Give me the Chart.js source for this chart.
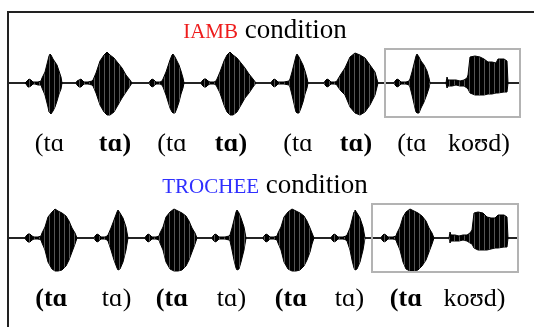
<!DOCTYPE html>
<html><head><meta charset="utf-8">
<script src="https://cdn.jsdelivr.net/npm/chart.js@4.4.1/dist/chart.umd.min.js"></script>
<style>
html,body{margin:0;padding:0;background:#fff;}
body{width:534px;height:327px;position:relative;overflow:hidden;}
#frame{position:absolute;left:7px;top:11px;right:0;bottom:0;border-left:2px solid #222;border-top:2px solid #222;pointer-events:none;}
.wrap{position:absolute;left:0;width:534px;height:163px;}
</style></head><body>
<div class="wrap" style="top:0"><canvas id="c1" width="534" height="163"></canvas></div>
<div class="wrap" style="top:155px"><canvas id="c2" width="534" height="163"></canvas></div>
<div id="frame"></div>
<script>
// ---------- DATA ----------
// time in ms, amplitude in arbitrary units (envelope of the waveform)
const syllableLabels = ['(tɑ','tɑ)','(tɑ','tɑ)','(tɑ','tɑ)','(tɑ','koʊd)'];
const iambStressed = [false,true,false,true,false,true,false,false];
const trocStressed = [true,false,true,false,true,false,true,false];
const iambLabelTimes = [203,530,815,1110,1445,1735,2015,2350];
const trocLabelTimes = [212,538,815,1112,1410,1702,1985,2327];
const iambTitle = ['IAMB',' condition'];
const trocTitle = ['TROCHEE',' condition'];
const iambBox = [1880,2555];
const trocBox = [1815,2545];
const iambEnd = 2550;
const trocEnd = 2545;

const iambT = [0,
 80,85,95,100,110,120,130,145,160,
 165,180,195,200,205,210,220,230,240,250,260,265,
 335,340,350,360,370,375,395,415,
 420,435,455,475,490,505,525,545,565,585,605,615,
 700,705,715,725,735,755,765,
 770,785,805,815,820,830,840,850,860,870,875,
 960,965,975,985,995,1005,1025,1035,
 1040,1055,1075,1090,1105,1120,1140,1160,1180,1200,1220,1235,
 1310,1315,1325,1335,1345,1375,1400,
 1405,1415,1430,1435,1440,1450,1460,1470,1480,1490,1495,
 1575,1580,1590,1600,1610,1630,1640,
 1645,1660,1680,1705,1730,1755,1780,1805,1830,1845,
 1925,1930,1940,1950,1960,1985,2000,
 2005,2015,2030,2035,2040,2050,2060,2075,2090,2100,2105,
 2185,2190,2195,2215,2235,2255,2275,2290,
 2295,2305,2330,2355,2375,2395,2415,2435,2445,2475,2490,2495,
 2550];
const iambUp = [0,
 0,1,3,4,3,1,1,1,2,
 5,11,23,27,29,28,24,21,18,12,6,0,
 0,2,3,4,2,1,1,2,
 3,10,22,28,31,28,25,20,15,8,3,0,
 0,2,4,3,1,1,2,
 4,11,23,28,29,26,22,18,12,5,0,
 0,2,4,4,2,1,1,2,
 4,11,22,28,31,28,25,20,15,9,4,0,
 0,2,4,3,1,1,2,
 4,11,23,27,29,26,22,18,12,5,0,
 0,2,4,3,1,1,2,
 4,9,15,26,30,28,25,18,11,0,
 0,2,4,3,1,1,2,
 4,11,23,27,29,26,22,18,12,5,0,
 0,6,3,3,3,2,3,5,
 8,26,27,26,24,21,21,20,24,24,22,0,
 0];
const iambLo = [0,
 0,-1,-4,-4,-3,-1,-1,-2,-2,
 -5,-12,-24,-29,-30,-31,-28,-24,-18,-11,-6,0,
 0,-2,-4,-4,-2,-1,-1,-2,
 -3,-10,-22,-29,-32,-32,-29,-22,-15,-9,-3,0,
 0,-2,-4,-3,-1,-1,-2,
 -4,-12,-25,-29,-30,-30,-25,-19,-11,-5,0,
 0,-2,-4,-4,-2,-1,-1,-2,
 -4,-10,-22,-29,-32,-32,-29,-22,-15,-10,-4,0,
 0,-2,-4,-3,-1,-1,-2,
 -4,-12,-25,-29,-30,-30,-25,-19,-11,-5,0,
 0,-2,-4,-3,-1,-1,-2,
 -4,-8,-12,-24,-30,-32,-29,-22,-12,0,
 0,-2,-4,-3,-1,-1,-2,
 -4,-12,-25,-29,-30,-30,-25,-19,-11,-5,0,
 0,-5,-3,-3,-2,-3,-3,-5,
 -6,-10,-12,-12,-12,-11,-11,-10,-10,-9,-9,0,
 0];

const trocT = [0,
 80,85,95,105,115,125,145,160,
 165,180,195,215,230,245,265,285,300,315,330,340,
 425,430,440,450,460,480,490,
 495,510,525,540,545,555,570,585,595,
 680,685,695,705,715,735,750,
 755,770,785,805,825,845,865,885,900,915,930,940,
 1015,1020,1030,1040,1050,1080,1100,
 1105,1115,1125,1135,1140,1150,1160,1175,1185,
 1270,1275,1285,1295,1305,1325,1340,
 1345,1360,1375,1395,1415,1435,1455,1475,1490,1505,1515,1525,
 1610,1615,1625,1635,1645,1670,1685,
 1690,1705,1715,1725,1730,1740,1755,1770,1780,
 1860,1865,1875,1885,1895,1920,1935,
 1940,1955,1970,1985,2005,2025,2045,2065,2085,2100,2115,2125,
 2200,2205,2210,2230,2250,2270,2290,2305,
 2315,2325,2345,2370,2390,2410,2430,2445,2475,2490,2495,
 2545];
const trocUp = [0,
 0,2,4,4,2,1,1,2,
 5,11,21,26,29,27,25,22,17,10,5,0,
 0,2,4,3,1,1,2,
 3,10,18,26,28,25,20,11,0,
 0,2,4,3,1,1,2,
 5,11,21,26,29,27,25,22,17,10,5,0,
 0,2,4,3,1,1,2,
 3,10,18,26,28,25,20,11,0,
 0,2,4,3,1,1,2,
 5,11,21,26,29,27,25,22,17,10,5,0,
 0,2,4,3,1,1,2,
 3,10,18,26,28,25,20,11,0,
 0,2,4,3,1,1,2,
 5,11,21,26,29,27,25,22,17,10,5,0,
 0,6,3,3,2,3,3,5,
 8,25,26,25,21,20,20,23,23,21,0,
 0];
const trocLo = [0,
 0,-2,-4,-4,-2,-1,-1,-2,
 -5,-12,-24,-31,-33,-33,-32,-28,-22,-14,-6,0,
 0,-2,-4,-3,-1,-1,-2,
 -3,-12,-22,-30,-32,-31,-24,-12,0,
 0,-2,-4,-3,-1,-1,-2,
 -5,-12,-24,-31,-33,-33,-32,-28,-22,-14,-6,0,
 0,-2,-4,-3,-1,-1,-2,
 -3,-12,-22,-30,-32,-31,-24,-12,0,
 0,-2,-4,-3,-1,-1,-2,
 -5,-12,-24,-31,-33,-33,-32,-28,-22,-14,-6,0,
 0,-2,-4,-3,-1,-1,-2,
 -3,-12,-22,-30,-32,-31,-24,-12,0,
 0,-2,-4,-3,-1,-1,-2,
 -5,-12,-24,-31,-33,-33,-32,-28,-22,-14,-6,0,
 0,-5,-3,-3,-3,-2,-3,-5,
 -6,-10,-12,-12,-12,-11,-10,-10,-9,-9,0,
 0];

// ---------- RENDERING ----------
const SERIF = "'Liberation Serif','DejaVu Serif','Times New Roman',serif";

// subtle striated fill to mimic the glottal-pulse texture of the waveform
function stripePattern() {
  const c = document.createElement('canvas');
  c.width = 5; c.height = 1;
  const g = c.getContext('2d');
  g.fillStyle = '#000'; g.fillRect(0, 0, 5, 1);
  g.fillStyle = '#555'; g.fillRect(4, 0, 1, 1);
  return g.createPattern(c, 'repeat');
}

const titlePlugin = {
  id: 'condTitle',
  afterDraw(chart, args, opts) {
    const ctx = chart.ctx;
    ctx.save();
    ctx.textBaseline = 'alphabetic';
    ctx.textAlign = 'left';
    const fonts = opts.sizes.map(s => s + 'px ' + SERIF);
    const widths = opts.parts.map((p, i) => { ctx.font = fonts[i]; return ctx.measureText(p).width; });
    const total = widths.reduce((a, b) => a + b, 0);
    let x = opts.centerX - total / 2;
    opts.parts.forEach((p, i) => {
      ctx.font = fonts[i];
      ctx.fillStyle = opts.colors[i];
      ctx.fillText(p, x, opts.baseline);
      x += widths[i];
    });
    ctx.restore();
  }
};

const boxPlugin = {
  id: 'grayBox',
  afterDatasetsDraw(chart, args, opts) {
    const xs = chart.scales.x, ys = chart.scales.y;
    const ctx = chart.ctx;
    const x0 = xs.getPixelForValue(opts.range[0]);
    const x1 = xs.getPixelForValue(opts.range[1]);
    const y0 = ys.getPixelForValue(opts.top);
    const y1 = ys.getPixelForValue(opts.bottom);
    ctx.save();
    ctx.strokeStyle = '#b3b3b3';
    ctx.lineWidth = 2;
    ctx.strokeRect(x0, y0, x1 - x0, y1 - y0);
    ctx.restore();
  }
};

function makeChart(id, T, UP, LO, endT, labelTimes, stressed, title, titleColor, box) {
  const upper = T.map((t, i) => ({x: t, y: UP[i]}));
  const lower = T.map((t, i) => ({x: t, y: LO[i]}));
  const fillStyle = stripePattern();
  return new Chart(document.getElementById(id), {
    type: 'line',
    data: {
      datasets: [
        {data: upper, borderColor: '#000', backgroundColor: fillStyle, borderWidth: 1, pointRadius: 0, tension: 0, fill: '+1'},
        {data: lower, borderColor: '#000', backgroundColor: fillStyle, borderWidth: 1, pointRadius: 0, tension: 0, fill: false},
        {data: [{x: 0, y: 0}, {x: endT, y: 0}], borderColor: '#6e6e6e', borderWidth: 1.5, pointRadius: 0, fill: false}
      ]
    },
    options: {
      responsive: false,
      animation: false,
      devicePixelRatio: 1,
      layout: {padding: {left: 9, right: 0, top: 45, bottom: 2}},
      plugins: {
        legend: {display: false},
        tooltip: {enabled: false},
        condTitle: {parts: title, colors: [titleColor, '#000'], sizes: [21, 27], centerX: 265, baseline: 38},
        grayBox: {range: box, top: 34, bottom: -34}
      },
      scales: {
        x: {
          type: 'linear', min: 0, max: 2625,
          grid: {display: false, drawTicks: false},
          border: {display: false},
          afterBuildTicks: s => { s.ticks = labelTimes.map(v => ({value: v})); },
          afterFit: s => { s.height = 40; },
          ticks: {
            padding: 8, autoSkip: false, maxRotation: 0, minRotation: 0, color: '#000',
            font: c => ({family: SERIF, size: 26, weight: stressed[c.index] ? 'bold' : 'normal'}),
            callback: (v, i) => syllableLabels[i]
          }
        },
        y: {display: false, min: -38, max: 38}
      }
    },
    plugins: [titlePlugin, boxPlugin]
  });
}

makeChart('c1', iambT, iambUp, iambLo, iambEnd, iambLabelTimes, iambStressed, iambTitle, '#ee1c1c', iambBox);
makeChart('c2', trocT, trocUp, trocLo, trocEnd, trocLabelTimes, trocStressed, trocTitle, '#2f2fff', trocBox);
</script>
</body></html>
